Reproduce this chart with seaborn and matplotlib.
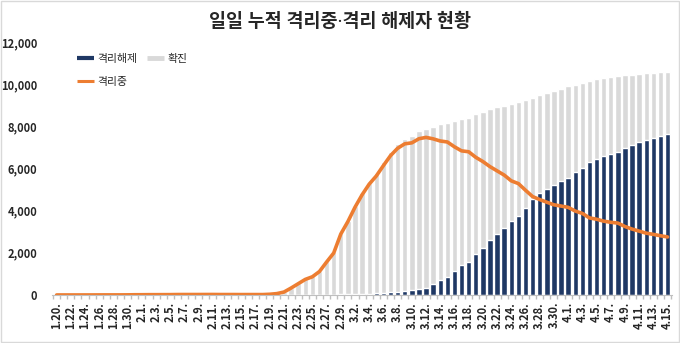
import numpy as np
import pandas as pd
import matplotlib
matplotlib.use("Agg")
import matplotlib.pyplot as plt
import seaborn as sns
from matplotlib.patches import Rectangle
from matplotlib.lines import Line2D
from matplotlib.ticker import FuncFormatter

sns.set_theme(style="white")
plt.rcParams['font.family'] = ['Noto Sans CJK KR', 'DejaVu Sans']

# categories: 1.20 ~ 4.15 (2020)
days = pd.date_range("2020-01-20", "2020-04-15", freq="D")
dates = [f"{d.month}.{d.day}." for d in days]

confirmed = [
    1, 1, 1, 1, 2, 2, 3, 4, 4, 4, 6, 11,
    12, 15, 15, 16, 18, 23, 24, 24, 25, 27, 28, 28, 28, 28, 28, 29, 30, 31,
    46, 82, 156, 346, 556, 763, 893, 1146, 1595, 2022, 2931,
    3526, 4212, 4812, 5328, 5766, 6284, 6767, 7134, 7382, 7513, 7755, 7869,
    7979, 8086, 8162, 8236, 8320, 8413, 8565, 8652, 8799, 8897, 8961, 9037,
    9137, 9241, 9332, 9478, 9583, 9661, 9786,
    9887, 9976, 10062, 10156, 10237, 10284, 10331, 10384, 10423, 10450,
    10480, 10512, 10537, 10564, 10591,
]
released = [
    0] * 12 + [
    0, 0, 0, 0, 1, 2, 2, 2, 3, 4, 4, 7, 7, 7, 9, 9, 10, 12, 12, 16, 16, 16,
    18, 18, 22, 22, 22, 22, 26,
    28, 30, 34, 41, 88, 108, 118, 130, 166, 247, 288, 333, 510, 714, 834,
    1137, 1407, 1540, 1947, 2233, 2612, 2909, 3166, 3507, 3730, 4144, 4528,
    4811, 5033, 5228, 5408,
    5567, 5828, 6021, 6325, 6463, 6598, 6694, 6776, 6973, 7117, 7243, 7368,
    7447, 7534, 7616,
]
isolated = [
    1, 1, 1, 1, 2, 2, 3, 4, 4, 4, 6, 11,
    12, 15, 15, 16, 17, 21, 22, 22, 22, 23, 24, 21, 21, 21, 19, 20, 20, 19,
    34, 65, 139, 328, 533, 738, 863, 1113, 1561, 1987, 2889,
    3481, 4160, 4750, 5255, 5643, 6134, 6605, 6954, 7165, 7212, 7407, 7470,
    7402, 7300, 7253, 7024, 6832, 6789, 6527, 6325, 6085, 5884, 5684, 5410,
    5281, 4966, 4665, 4523, 4398, 4275, 4216,
    4155, 3979, 3867, 3654, 3591, 3500, 3445, 3408, 3246, 3125, 3026, 2930,
    2873, 2808, 2750,
]

GRAY = "#D9D9D9"
NAVY = "#1F3864"
ORANGE = "#ED7D31"

df = pd.DataFrame({"date": dates, "x": np.arange(len(dates)),
                   "확진": confirmed, "격리해제": released, "격리중": isolated})

fig = plt.figure(figsize=(6.8, 3.43), dpi=100)
ax = fig.add_axes([0.077, 0.14, 0.911, 0.738])

sns.barplot(data=df, x="date", y="확진", color=GRAY, width=0.76,
            saturation=1, ax=ax, order=dates)
sns.barplot(data=df, x="date", y="격리해제", color=NAVY, width=0.76,
            saturation=1, ax=ax, order=dates)
sns.lineplot(data=df, x="x", y="격리중", color=ORANGE, linewidth=2.6,
             ax=ax, sort=False)

ax.set_xlim(-0.6, len(dates) - 0.4)
ax.set_ylim(0, 12000)
ax.set_yticks(np.arange(0, 12001, 2000))
ax.yaxis.set_major_formatter(FuncFormatter(lambda v, p: f"{int(v):,}"))
ax.set_xticks(np.arange(0, len(dates), 2))
ax.set_xticklabels(dates[::2], rotation=90, fontsize=8, fontweight="bold")
ax.set_xticks(np.arange(-0.5, len(dates), 1), minor=True)
ax.tick_params(axis="x", which="major", length=0, pad=5)
ax.tick_params(axis="x", which="minor", length=3, color="#BFBFBF", bottom=True)
ax.tick_params(axis="y", length=0, pad=11, labelsize=8)
for lab in ax.get_yticklabels():
    lab.set_fontweight("bold")
ax.set_xlabel("")
ax.set_ylabel("")
for s in ["top", "right", "left"]:
    ax.spines[s].set_visible(False)
ax.spines["bottom"].set_color("#BFBFBF")
ax.spines["bottom"].set_linewidth(0.8)
ax.grid(False)

handles = [Line2D([0], [0], color=NAVY, linewidth=3, solid_capstyle="butt"),
           Line2D([0], [0], color=ORANGE, linewidth=2.2, solid_capstyle="butt"),
           Line2D([0], [0], color=GRAY, linewidth=3.5, solid_capstyle="butt")]
labels = ["격리해제", "격리중", "확진"]
ax.legend(handles, labels, ncol=2, loc="upper left",
          bbox_to_anchor=(77 / 680, 1 - 54 / 343),
          bbox_transform=fig.transFigure,
          frameon=False, fontsize=7.8, handlelength=1.55,
          handletextpad=0.3, columnspacing=0.95, labelspacing=1.2,
          borderaxespad=0, borderpad=0)

fig.text(0.5, 0.935, "일일 누적 격리중·격리 해제자 현황", ha="center", va="center",
         fontsize=13.3, fontweight="bold", family=["Noto Sans", "Noto Sans CJK KR"])
fig.patches.append(Rectangle((0.001, 0.002), 0.997, 0.995, transform=fig.transFigure,
                             fill=False, edgecolor="#D9D9D9", linewidth=1))

fig.savefig("out.png", dpi=100)
